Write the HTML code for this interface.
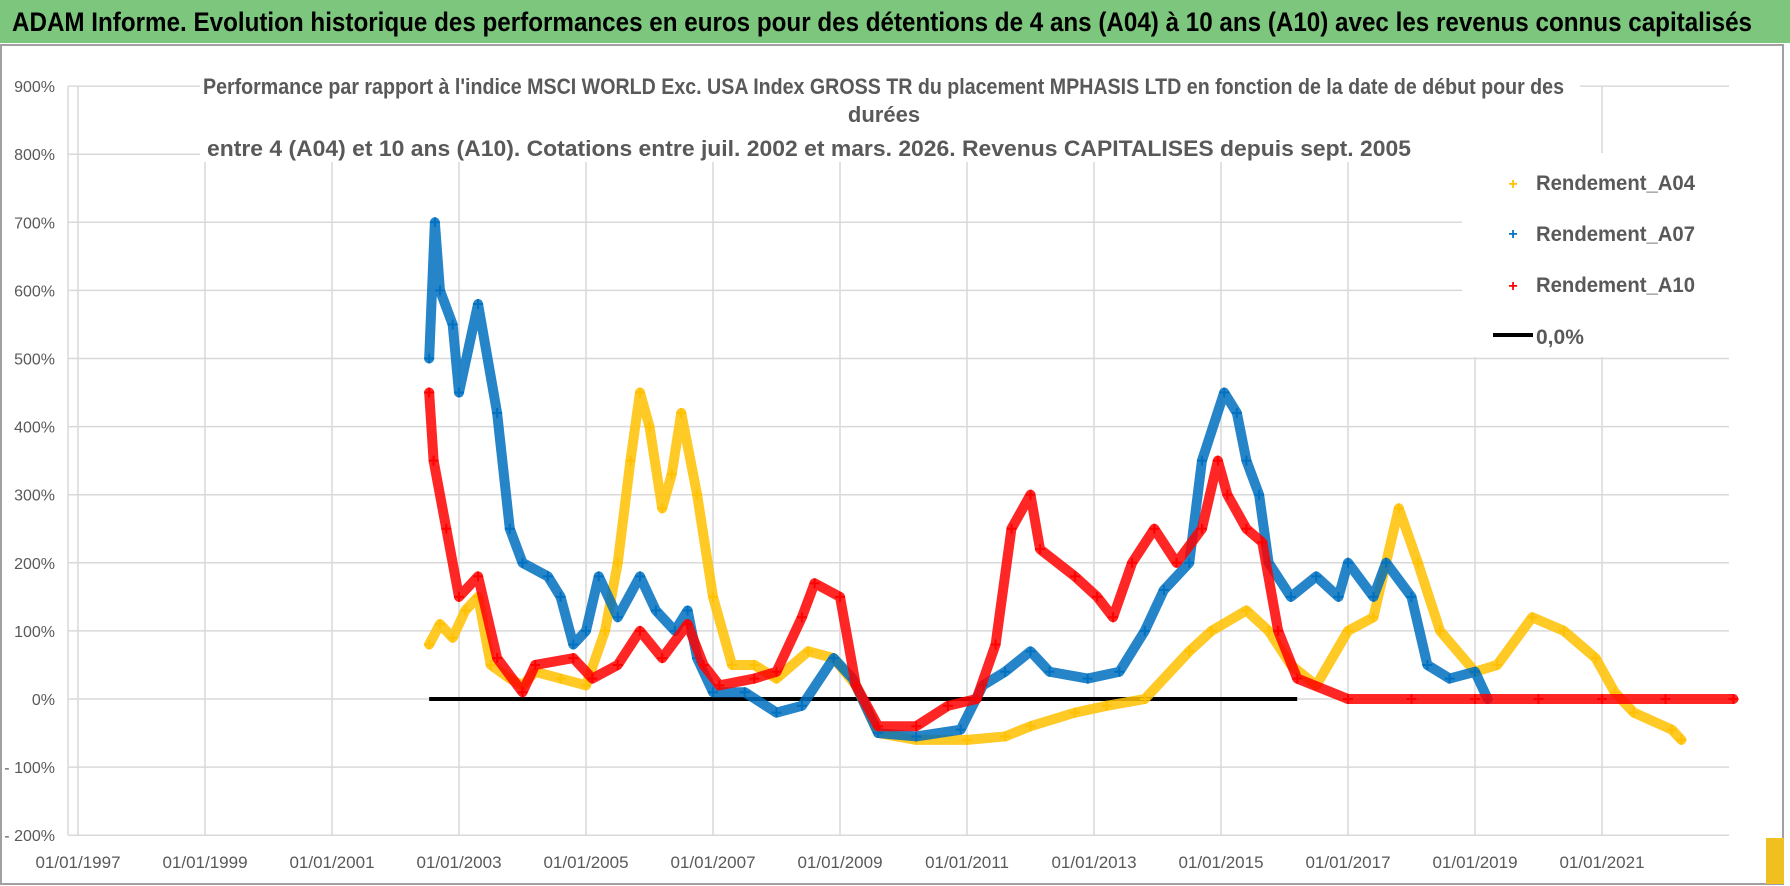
<!DOCTYPE html>
<html><head><meta charset="utf-8"><style>
html,body{margin:0;padding:0;background:#fff;}
svg{display:block;font-family:"Liberation Sans",sans-serif;}
</style></head><body>
<svg id="chart" width="1790" height="886" viewBox="0 0 1790 886">
<rect x="0" y="0" width="1790" height="886" fill="#fff"/>
<rect x="0" y="0" width="1790" height="43" fill="#7dc67d"/>
<text x="12" y="31" font-size="27" font-weight="bold" fill="#000" textLength="1740" lengthAdjust="spacingAndGlyphs">ADAM Informe. Evolution historique des performances en euros pour des détentions de 4 ans (A04) à 10 ans (A10) avec les revenus connus capitalisés</text>
<rect x="1" y="45" width="1782" height="839" fill="none" stroke="#a0a0a0" stroke-width="2"/>
<rect x="1766" y="838" width="18" height="46" fill="#f0c020"/>
<g id="grid"></g>
<g id="series"></g>
<g id="axes"></g>
<rect x="200" y="66" width="1380" height="96" fill="#fff"/>
<text x="203" y="94" font-size="22" font-weight="bold" fill="#595959" textLength="1361" lengthAdjust="spacingAndGlyphs">Performance par rapport à l'indice MSCI WORLD Exc. USA Index GROSS TR  du placement MPHASIS LTD en fonction de la date de début pour des</text>
<text x="884" y="122" font-size="22" font-weight="bold" fill="#595959" text-anchor="middle">durées</text>
<text x="207" y="156" font-size="22" font-weight="bold" fill="#595959" textLength="1204" lengthAdjust="spacingAndGlyphs">entre 4 (A04) et 10 ans (A10). Cotations entre juil. 2002 et mars. 2026. Revenus CAPITALISES depuis sept. 2005</text>
<g>
<rect x="1462" y="153" width="267" height="204" fill="#fff"/>
<g><text x="1513" y="189" font-size="16" fill="#ffc000" text-anchor="middle" font-weight="bold">+</text><text x="1536" y="190" font-size="21" font-weight="bold" fill="#595959" textLength="159" lengthAdjust="spacingAndGlyphs">Rendement_A04</text></g>
<g><text x="1513" y="239" font-size="16" fill="#0070c0" text-anchor="middle" font-weight="bold">+</text><text x="1536" y="241" font-size="21" font-weight="bold" fill="#595959" textLength="159" lengthAdjust="spacingAndGlyphs">Rendement_A07</text></g>
<g><text x="1513" y="291" font-size="16" fill="#ff0000" text-anchor="middle" font-weight="bold">+</text><text x="1536" y="292" font-size="21" font-weight="bold" fill="#595959" textLength="159" lengthAdjust="spacingAndGlyphs">Rendement_A10</text></g>
<g><line x1="1493" y1="335" x2="1533" y2="335" stroke="#000" stroke-width="4"/><text x="1536" y="344" font-size="21" font-weight="bold" fill="#595959">0,0%</text></g>
</g>
</svg>
<script>
const yTicks = [900,800,700,600,500,400,300,200,100,0,-100,-200];
const yTickLabels = ["900%","800%","700%","600%","500%","400%","300%","200%","100%","0%","- 100%","- 200%"];
const xTicks = [1997,1999,2001,2003,2005,2007,2009,2011,2013,2015,2017,2019,2021];
const xTickLabels = ["01/01/1997","01/01/1999","01/01/2001","01/01/2003","01/01/2005","01/01/2007","01/01/2009","01/01/2011","01/01/2013","01/01/2015","01/01/2017","01/01/2019","01/01/2021"];

const a04Dates = [2002.53,2002.7,2002.9,2003.1,2003.3,2003.5,2003.8,2004.0,2004.2,2004.6,2005.0,2005.3,2005.5,2005.7,2005.85,2006.0,2006.2,2006.35,2006.5,2006.75,2007.0,2007.3,2007.65,2008.0,2008.5,2008.9,2009.25,2009.6,2010.2,2011.0,2011.6,2012.0,2012.7,2013.2,2013.8,2014.5,2014.85,2015.4,2015.75,2016.1,2016.5,2017.0,2017.4,2017.6,2017.8,2018.1,2018.45,2019.0,2019.35,2019.9,2020.4,2020.9,2021.2,2021.5,2022.1,2022.25];
const a04Values = [80,110,90,130,150,50,30,20,40,30,20,100,200,350,450,400,280,330,420,300,150,50,50,30,70,60,20,-50,-60,-60,-55,-40,-20,-10,0,70,100,130,100,50,20,100,120,200,280,200,100,40,50,120,100,60,10,-20,-45,-60];

const a07Dates = [2002.53,2002.62,2002.7,2002.9,2003.0,2003.3,2003.6,2003.8,2004.0,2004.4,2004.6,2004.8,2005.0,2005.2,2005.5,2005.85,2006.1,2006.4,2006.6,2006.75,2007.0,2007.5,2008.0,2008.4,2008.9,2009.2,2009.6,2010.2,2010.9,2011.25,2011.6,2012.0,2012.3,2012.9,2013.4,2013.8,2014.1,2014.5,2014.7,2015.05,2015.25,2015.4,2015.6,2015.75,2016.1,2016.5,2016.85,2017.0,2017.4,2017.6,2018.0,2018.25,2018.6,2019.0,2019.2];
const a07Values = [500,700,600,550,450,580,420,250,200,180,150,80,100,180,120,180,130,100,130,60,10,10,-20,-10,60,30,-50,-55,-45,20,40,70,40,30,40,100,160,200,350,450,420,350,300,200,150,180,150,200,150,200,150,50,30,40,0];

const a10Dates = [2002.53,2002.6,2002.8,2003.0,2003.3,2003.6,2004.0,2004.2,2004.8,2005.1,2005.5,2005.85,2006.2,2006.6,2006.85,2007.1,2007.65,2008.0,2008.4,2008.6,2009.0,2009.25,2009.6,2010.2,2010.7,2011.15,2011.45,2011.7,2012.0,2012.15,2012.7,2013.05,2013.3,2013.6,2013.95,2014.3,2014.7,2014.95,2015.1,2015.4,2015.65,2015.9,2016.2,2017.0,2018.0,2019.0,2020.0,2021.0,2022.0,2023.07];
const a10Values = [450,350,250,150,180,60,10,50,60,30,50,100,60,110,50,20,30,40,120,170,150,20,-40,-40,-10,0,80,250,300,220,180,150,120,200,250,200,250,350,300,250,230,100,30,0,0,0,0,0,0,0];

const zeroDates = [2002.53,2016.2];
const zeroValues = [0,0];

const NS = "http://www.w3.org/2000/svg";
function X(year){ return 78 + (year - 1997) * 63.5; }
function Y(v){ return 699 - v * 0.681; }
function el(tag, attrs, parent){ const e=document.createElementNS(NS,tag); for(const k in attrs) e.setAttribute(k,attrs[k]); parent.appendChild(e); return e; }

const grid = document.getElementById('grid');
const axes = document.getElementById('axes');
const series = document.getElementById('series');

yTicks.forEach((t,i)=>{
  const l = el('line',{x1:68,x2:1729,y1:Y(t),y2:Y(t),stroke:'#d9d9d9','stroke-width':1.5},grid);
  
  
  const tx = el('text',{x:55,y:Y(t)+6,'font-size':16,fill:'#595959','text-anchor':'end'},axes);
  tx.textContent = yTickLabels[i];
  
  
});
el('line',{x1:68,x2:68,y1:Y(900),y2:Y(-200),stroke:'#d9d9d9','stroke-width':1.5},grid);
xTicks.forEach((t,i)=>{
  const l = el('line',{x1:X(t),x2:X(t),y1:Y(900),y2:Y(-200),stroke:'#d9d9d9','stroke-width':1.5},grid);
  
  
  const tx = el('text',{x:X(t),y:868,'font-size':17,fill:'#595959','text-anchor':'middle'},axes);
  tx.textContent = xTickLabels[i];
  
  
});

function drawSeries(dates, values, color, name, width){
  const pts = dates.map((d,i)=>X(d)+','+Y(values[i])).join(' ');
  const pl = el('polyline',{points:pts,fill:'none',stroke:color,'stroke-width':width,'stroke-linejoin':'round','stroke-linecap':'round','stroke-opacity':0.85},series);
  
  
  dates.forEach((d,i)=>{
    const x=X(d), y=Y(values[i]);
    const p = el('path',{d:`M${x-5},${y}H${x+5}M${x},${y-5}V${y+5}`,stroke:color,'stroke-width':2},series);
    
    
  });
}
const z = el('polyline',{points:zeroDates.map((d,i)=>X(d)+','+Y(zeroValues[i])).join(' '),fill:'none',stroke:'#000','stroke-width':4},series);


drawSeries(a04Dates,a04Values,'#ffc000','a04',10);
drawSeries(a07Dates,a07Values,'#0070c0','a07',10);
drawSeries(a10Dates,a10Values,'#ff0000','a10',10);
</script>
</body></html>
